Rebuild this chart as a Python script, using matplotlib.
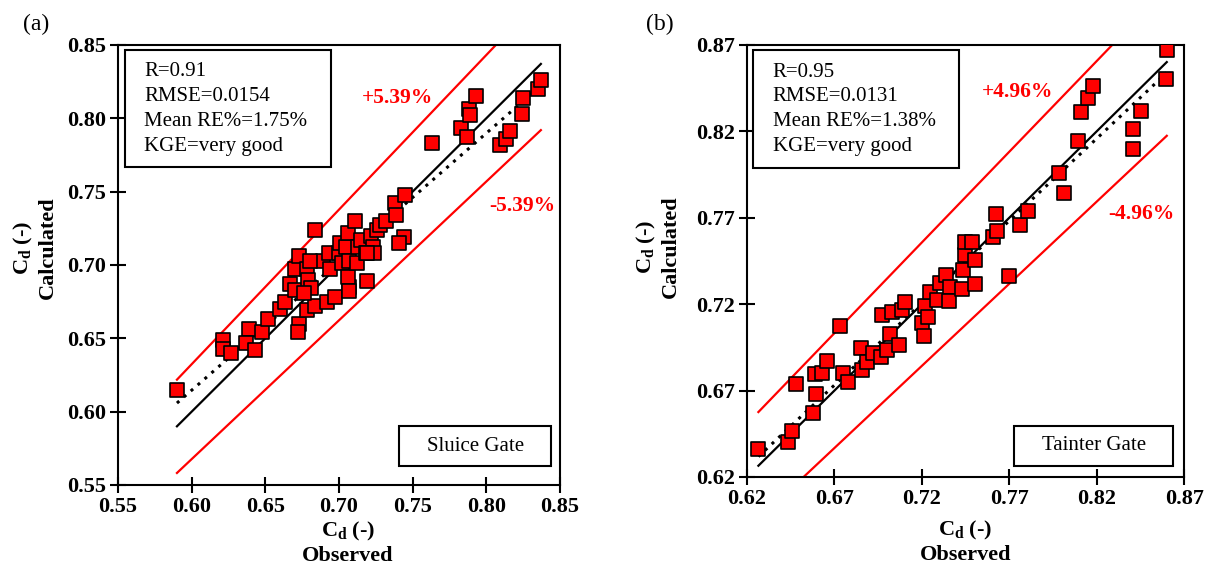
import numpy as np
import matplotlib
matplotlib.use("Agg")
import matplotlib.pyplot as plt
from matplotlib.patches import Rectangle

plt.rcParams['font.family'] = ['Liberation Serif', 'DejaVu Serif']
plt.rcParams['mathtext.fontset'] = 'custom'
plt.rcParams['mathtext.rm'] = 'Liberation Serif:bold'
plt.rcParams['mathtext.it'] = 'Liberation Serif:bold'
plt.rcParams['mathtext.bf'] = 'Liberation Serif:bold'

# Sluice gate: observed vs calculated Cd
obs_a = [0.590, 0.6215, 0.621, 0.627, 0.639, 0.637, 0.643, 0.648, 0.652, 0.660,
         0.663, 0.667, 0.670, 0.673, 0.670, 0.673, 0.672, 0.678, 0.679, 0.681,
         0.678, 0.684, 0.684, 0.689, 0.693, 0.694, 0.692, 0.697, 0.700, 0.701,
         0.702, 0.705, 0.706, 0.707, 0.707, 0.706, 0.711, 0.712, 0.713, 0.715,
         0.718, 0.722, 0.723, 0.724, 0.726, 0.728, 0.732, 0.719, 0.738, 0.739,
         0.745, 0.744, 0.741, 0.763, 0.783, 0.787, 0.788, 0.789, 0.793, 0.809,
         0.813, 0.816, 0.824, 0.825, 0.835, 0.837, 0.676, 0.680, 0.707, 0.719]
cal_a = [0.615, 0.649, 0.643, 0.640, 0.656, 0.647, 0.642, 0.654, 0.663, 0.670,
         0.675, 0.687, 0.697, 0.706, 0.683, 0.660, 0.654, 0.697, 0.690, 0.684,
         0.669, 0.672, 0.724, 0.703, 0.708, 0.697, 0.675, 0.678, 0.708, 0.715,
         0.701, 0.712, 0.722, 0.703, 0.685, 0.692, 0.730, 0.701, 0.712, 0.717,
         0.708, 0.720, 0.712, 0.708, 0.724, 0.727, 0.730, 0.689, 0.742, 0.734,
         0.748, 0.719, 0.715, 0.783, 0.793, 0.787, 0.806, 0.802, 0.815, 0.782,
         0.786, 0.791, 0.803, 0.814, 0.820, 0.826, 0.681, 0.703, 0.682, 0.708]

# Tainter gate
obs_b = [0.6265, 0.6437, 0.6456, 0.648, 0.658, 0.6595, 0.659, 0.663, 0.666, 0.673,
         0.675, 0.6775, 0.6857, 0.685, 0.6885, 0.692, 0.6965, 0.697, 0.700, 0.7015,
         0.7028, 0.707, 0.7085, 0.7105, 0.720, 0.7213, 0.722, 0.7238, 0.7247, 0.7285,
         0.7305, 0.734, 0.736, 0.7358, 0.7428, 0.7438, 0.7448, 0.7448, 0.7486, 0.7505,
         0.7505, 0.7606, 0.7629, 0.7625, 0.7696, 0.7762, 0.781, 0.7987, 0.8014, 0.8096,
         0.811, 0.8148, 0.8178, 0.841, 0.841, 0.8453, 0.8598, 0.8601]
cal_b = [0.636, 0.6405, 0.6468, 0.674, 0.657, 0.668, 0.6796, 0.680, 0.687, 0.7074,
         0.680, 0.675, 0.682, 0.6945, 0.6867, 0.6916, 0.6896, 0.714, 0.6935, 0.703,
         0.7157, 0.6964, 0.7166, 0.7215, 0.709, 0.7018, 0.719, 0.7124, 0.7273, 0.7224,
         0.732, 0.737, 0.7302, 0.722, 0.729, 0.7398, 0.7485, 0.756, 0.756, 0.7456,
         0.7317, 0.759, 0.7625, 0.7722, 0.7363, 0.7658, 0.774, 0.7957, 0.7842, 0.8144,
         0.8314, 0.8391, 0.8463, 0.8212, 0.8096, 0.8318, 0.8501, 0.867]

# trend lines (slope, intercept) and error bands
trend_a = (0.876, 0.089)
trend_b = (0.951, 0.036)
band_a = 5.39
band_b = 4.96
stats_a = ["R=0.91", "RMSE=0.0154", "Mean RE%=1.75%", "KGE=very good"]
stats_b = ["R=0.95", "RMSE=0.0131", "Mean RE%=1.38%", "KGE=very good"]
ticks_a = [0.55, 0.60, 0.65, 0.70, 0.75, 0.80, 0.85]
ticks_b = [0.62, 0.67, 0.72, 0.77, 0.82, 0.87]

fig = plt.figure(figsize=(12.08, 5.65), dpi=100)
ax_a = fig.add_axes([0.0977, 0.1416, 0.3659, 0.779])
ax_b = fig.add_axes([0.6184, 0.1558, 0.3618, 0.7646])


def panel(ax, obs, cal, trend, band, stats, ticks, gate, stat_box, gate_box, lbl_pos, xl_pos, yl_pos):
    obs = np.array(obs)
    cal = np.array(cal)
    xs = np.array([obs.min(), obs.max()])
    ax.plot(xs, xs, color='black', lw=1.6, zorder=2)
    ax.plot(xs, trend[0] * xs + trend[1], color='black', lw=2.2, ls=(0, (1, 2.0)), zorder=2)
    ax.plot(xs, xs * (1 + band / 100), color='red', lw=1.6, zorder=2)
    ax.plot(xs, xs * (1 - band / 100), color='red', lw=1.6, zorder=2)
    ax.scatter(obs, cal, marker='s', s=100, c='#ff0000', edgecolors='black',
               linewidths=1.2, zorder=3)

    ax.set_xlim(ticks[0], ticks[-1])
    ax.set_ylim(ticks[0], ticks[-1])
    ax.set_xticks(ticks)
    ax.set_yticks(ticks)
    ax.set_xticklabels(['%.2f' % t for t in ticks], fontsize=16, fontweight='bold')
    ax.set_yticklabels(['%.2f' % t for t in ticks], fontsize=16, fontweight='bold')
    ax.tick_params(direction='inout', length=11, width=1.5, pad=3)
    for sp in ax.spines.values():
        sp.set_linewidth(1.5)
    ax.set_xlabel("C$_{\\mathregular{d}}$ (-)\nObserved", fontsize=16, fontweight='bold',
                  linespacing=1.2)
    ax.set_ylabel("C$_{\\mathregular{d}}$ (-)\nCalculated", fontsize=16, fontweight='bold',
                  linespacing=1.2)
    ax.xaxis.set_label_coords(*xl_pos)
    ax.yaxis.set_label_coords(*yl_pos)

    # stats box
    x0, x1, y0, y1, tx, lines_y = stat_box
    ax.add_patch(Rectangle((x0, y0), x1 - x0, y1 - y0, transform=ax.transAxes,
                           fill=True, facecolor='white', edgecolor='black', lw=1.5, zorder=4))
    for s, yy in zip(stats, lines_y):
        ax.text(tx, yy, s, transform=ax.transAxes, fontsize=15, va='center', ha='left', zorder=5)

    # gate name box
    gx0, gx1, gy0, gy1 = gate_box
    ax.add_patch(Rectangle((gx0, gy0), gx1 - gx0, gy1 - gy0, transform=ax.transAxes,
                           fill=True, facecolor='white', edgecolor='black', lw=1.5, zorder=4))
    ax.text((gx0 + gx1) / 2, (gy0 + gy1) / 2, gate, transform=ax.transAxes, fontsize=15,
            ha='center', va='center', zorder=5)

    (px, py), (mx, my) = lbl_pos
    ax.text(px, py, "+%.2f%%" % band, transform=ax.transAxes, color='red', fontsize=15.5,
            fontweight='bold', ha='center', va='center')
    ax.text(mx, my, "-%.2f%%" % band, transform=ax.transAxes, color='red', fontsize=15.5,
            fontweight='bold', ha='center', va='center')


panel(ax_a, obs_a, cal_a, trend_a, band_a, stats_a, ticks_a, "Sluice Gate",
      (0.016, 0.482, 0.723, 0.989, 0.059, [0.939, 0.882, 0.827, 0.770]),
      (0.636, 0.980, 0.043, 0.134),
      ((0.633, 0.880), (0.914, 0.634)),
      (0.52, -0.080), (-0.136, 0.539))
panel(ax_b, obs_b, cal_b, trend_b, band_b, stats_b, ticks_b, "Tainter Gate",
      (0.014, 0.485, 0.715, 0.988, 0.059, [0.937, 0.880, 0.824, 0.766]),
      (0.611, 0.975, 0.0255, 0.118),
      ((0.618, 0.891), (0.902, 0.609)),
      (0.50, -0.097), (-0.151, 0.532))

fig.text(36 / 1208, 1 - 24 / 565, "(a)", fontsize=17, ha='center', va='center')
fig.text(660 / 1208, 1 - 24 / 565, "(b)", fontsize=17, ha='center', va='center')

fig.savefig("out.png", dpi=100)
